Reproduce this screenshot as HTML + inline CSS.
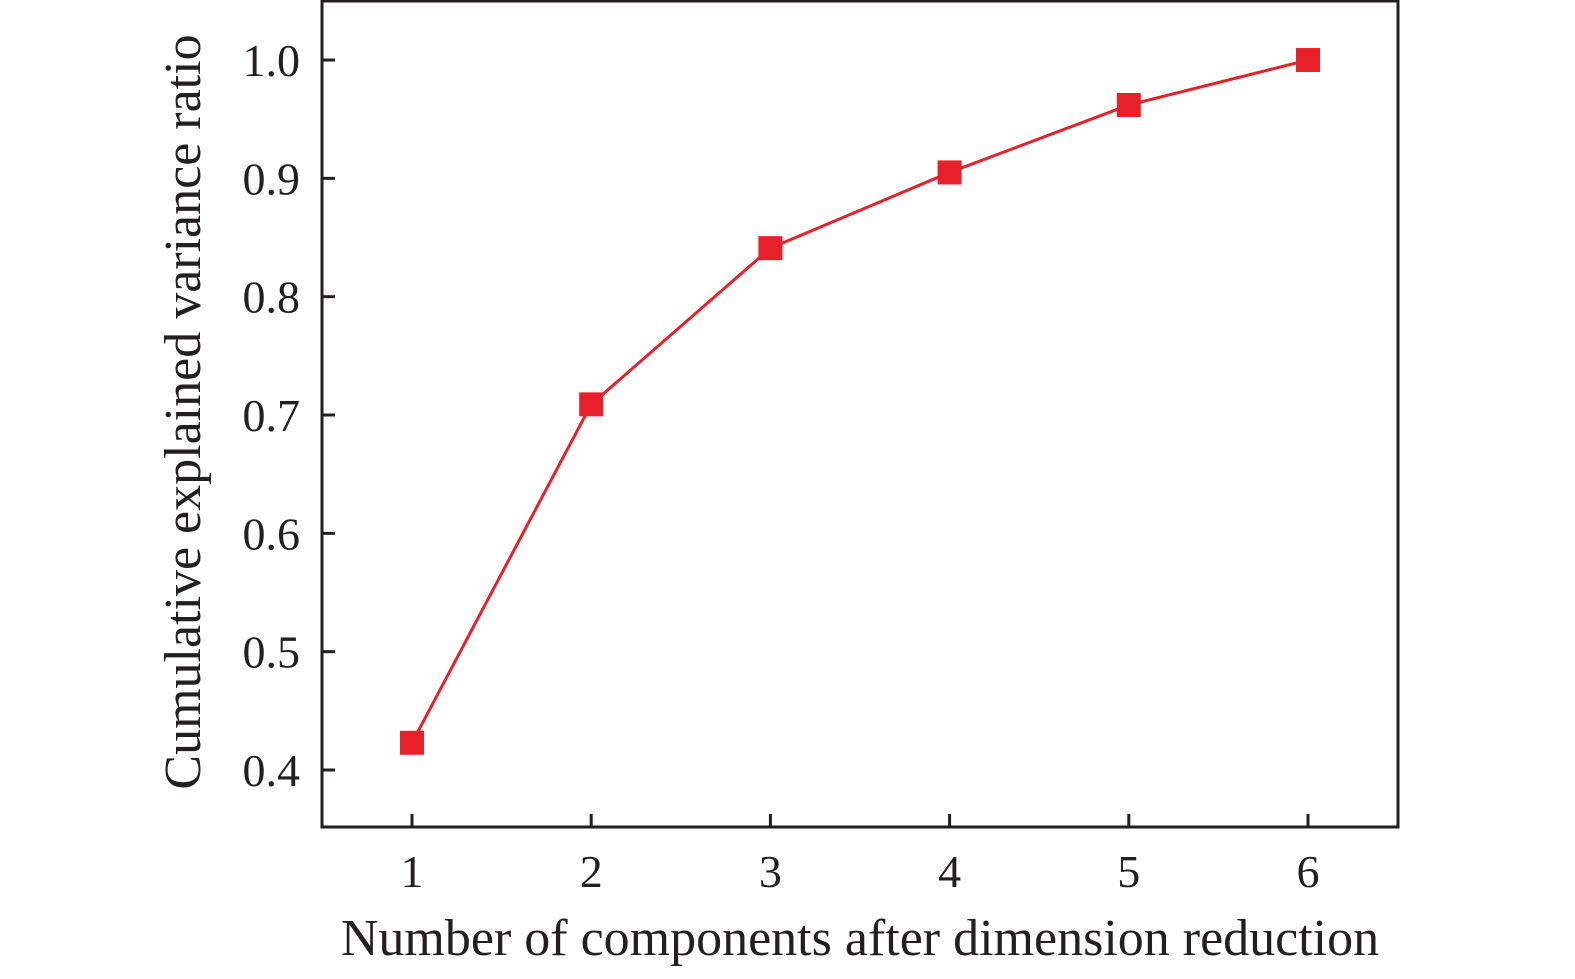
<!DOCTYPE html>
<html><head><meta charset="utf-8"><style>
html,body{margin:0;padding:0;background:#fff;}
svg text{font-family:"Liberation Serif",serif;fill:#231f20;}
</style></head><body>
<svg width="1575" height="974" viewBox="0 0 1575 974">
<g id="axes"></g>
<g id="series"></g>
<text x="860" y="955" font-size="52" text-anchor="middle">Number of components after dimension reduction</text>
<text transform="translate(200,412) rotate(-90)" font-size="52" text-anchor="middle">Cumulative explained variance ratio</text>
</svg>
<script>
const categories=[1,2,3,4,5,6];
const values=[0.423,0.709,0.841,0.905,0.962,1.0];
const yTicks=[0.4,0.5,0.6,0.7,0.8,0.9,1.0];
const xTicks=[1,2,3,4,5,6];
const L=322,R=1398,T=1,B=827;
function xs(v){return 412+(v-1)*179.2;}
function ys(v){return 770-(v-0.4)*1183.3;}
const NS="http://www.w3.org/2000/svg";
function mk(t,a,p){const e=document.createElementNS(NS,t);for(const k in a)e.setAttribute(k,a[k]);p.appendChild(e);return e;}
const ax=document.getElementById('axes'),se=document.getElementById('series');
const fr=mk('rect',{x:L,y:T,width:R-L,height:B-T,fill:'none',stroke:'#231f20','stroke-width':3},ax);


yTicks.forEach(v=>{const y=ys(v);
 const l=mk('line',{x1:L,x2:L+13,y1:y,y2:y,stroke:'#231f20','stroke-width':3},ax);
 
 
 const t=mk('text',{x:300,y:y+16,'font-size':46,'text-anchor':'end'},ax);t.textContent=v.toFixed(1);
 
 });
xTicks.forEach(v=>{const x=xs(v);
 const l=mk('line',{x1:x,x2:x,y1:B,y2:B-13,stroke:'#231f20','stroke-width':3},ax);
 
 
 const t=mk('text',{x:x,y:887,'font-size':46,'text-anchor':'middle'},ax);t.textContent=v;
 
 });
const pl=mk('polyline',{points:categories.map((c,i)=>xs(c)+','+ys(values[i])).join(' '),fill:'none',stroke:'#e8202a','stroke-width':3},se);


categories.forEach((c,i)=>{const m=mk('rect',{x:xs(c)-12,y:ys(values[i])-12,width:24,height:24,fill:'#e8202a'},se);
 
 });
</script>
</body></html>
